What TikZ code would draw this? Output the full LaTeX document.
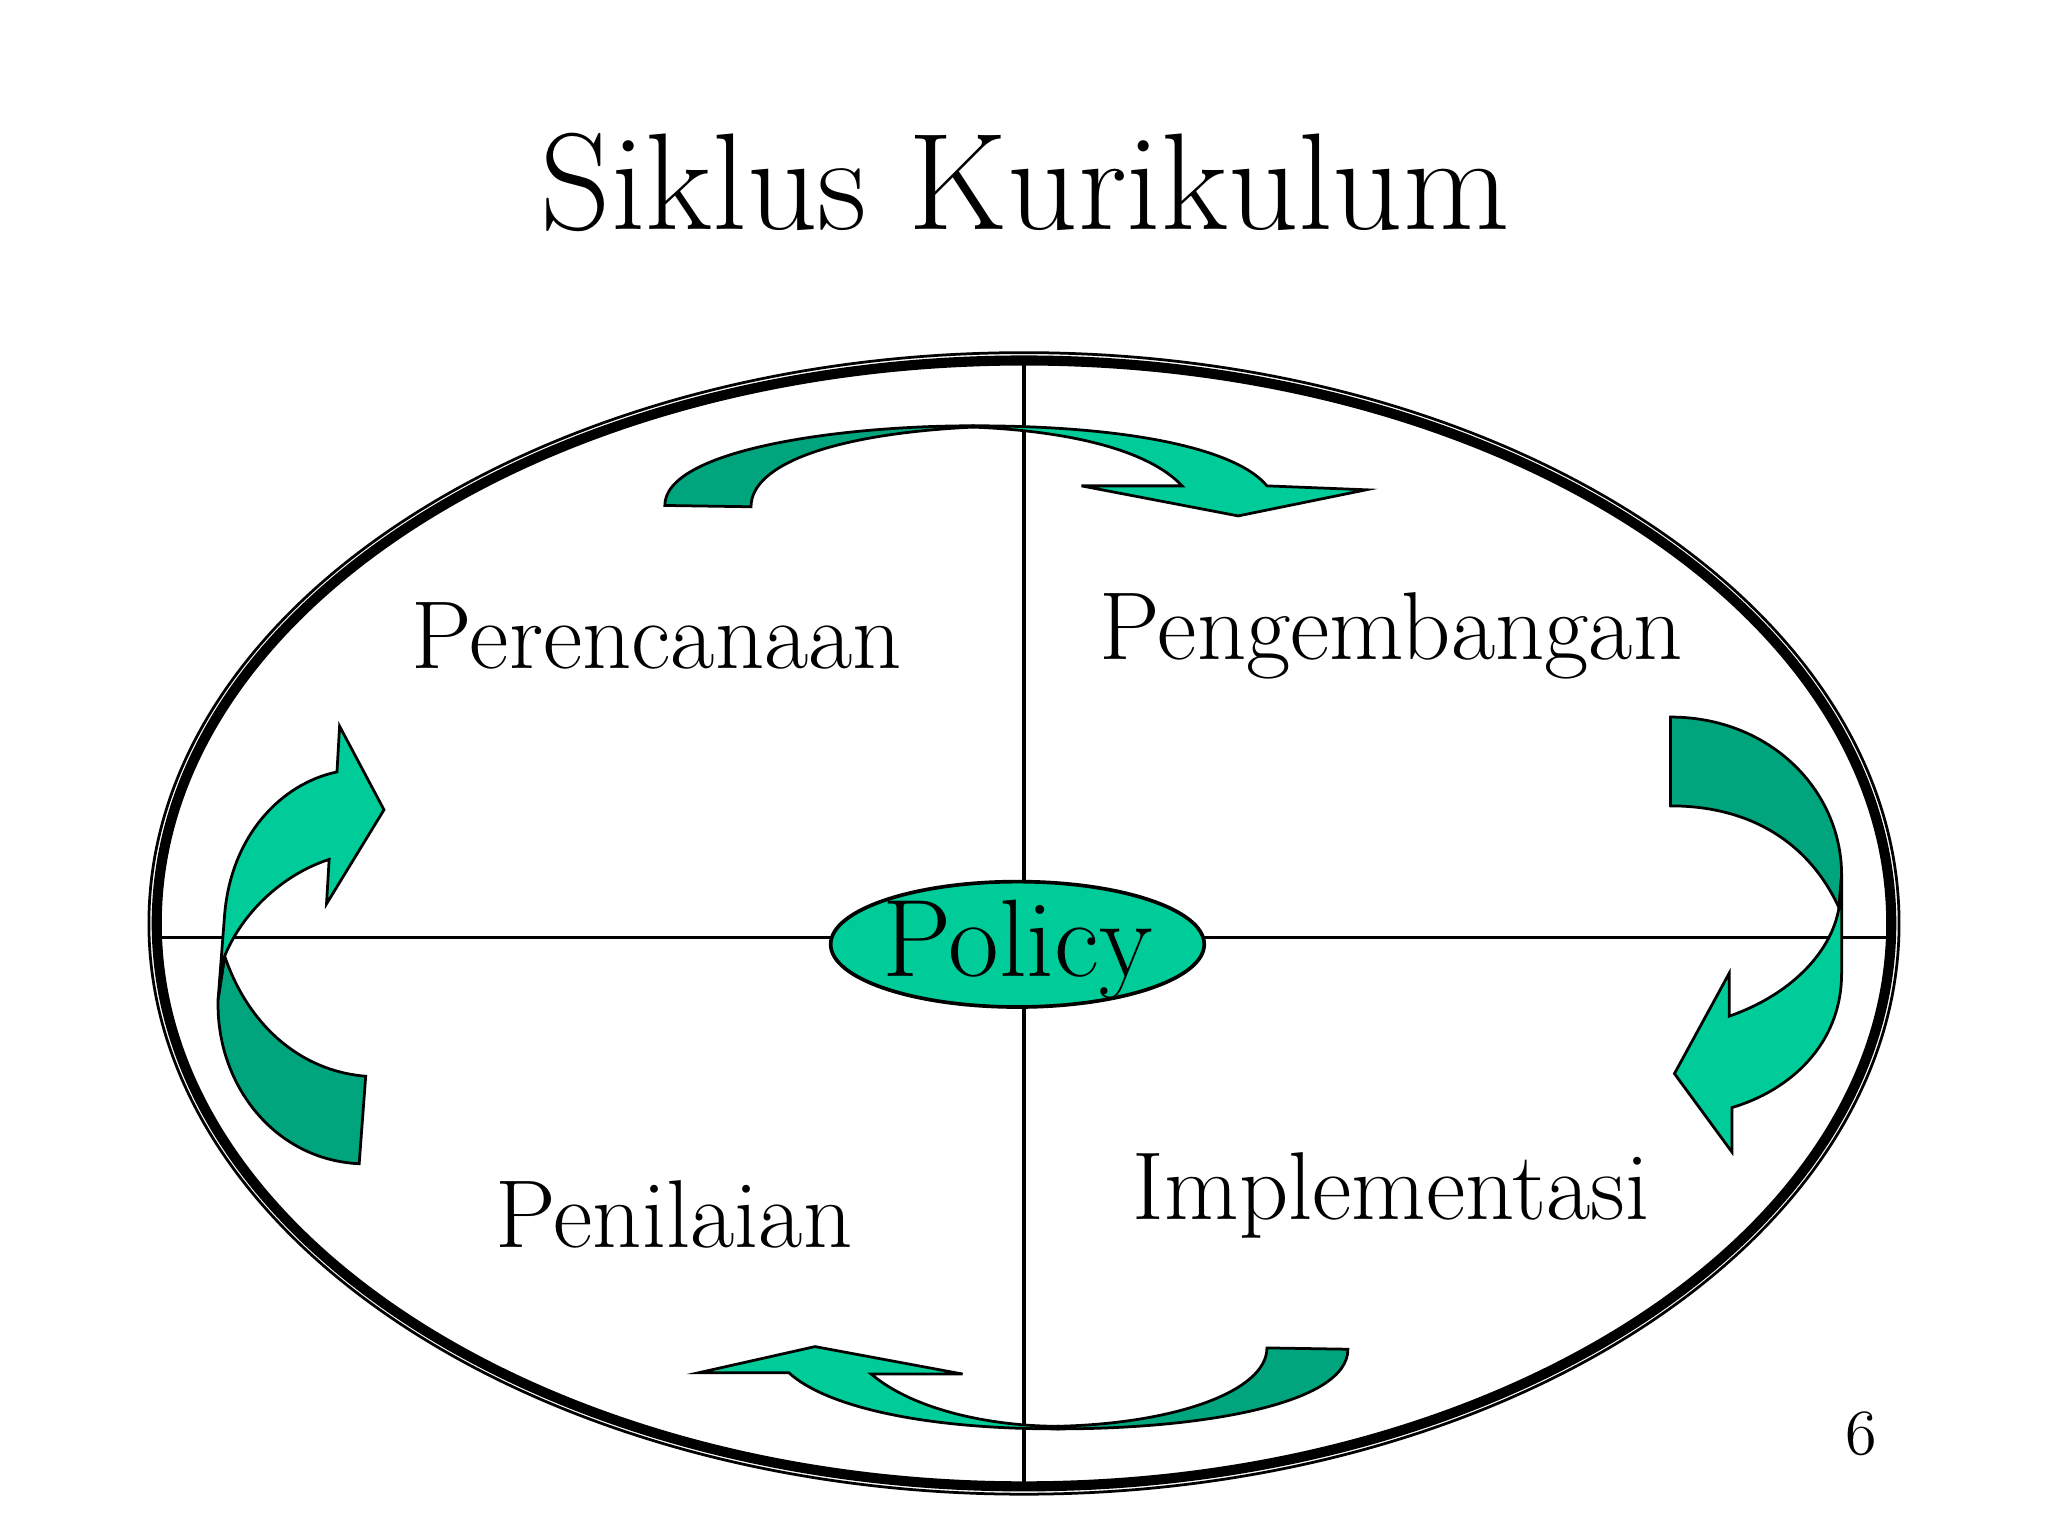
\documentclass[tikz,border=0pt]{standalone}
\definecolor{lgreen}{HTML}{00CC99}
\definecolor{dgreen}{HTML}{00A57D}
\begin{document}
\begin{tikzpicture}[x=0.01cm,y=-0.01cm,
  lbl/.style={font=\fontsize{21}{24}\selectfont},
  arr/.style={draw=black,line width=0.6pt,line join=miter}]
\useasboundingbox (0,0) rectangle (1568,1176);
\node (title) at (785,140) {\fontsize{30}{34}\selectfont Siklus Kurikulum};
% big ellipse
\draw[line width=0.6pt] (784,707) ellipse [x radius=670,y radius=437];
\draw[line width=2.2pt] (784,707) ellipse [x radius=664,y radius=431];
% axes
\coordinate (vt) at (784,279); \coordinate (vb) at (784,1136);
\coordinate (hl) at (120,718); \coordinate (hr) at (1447,718);
\draw[line width=0.7pt] (vt) -- (vb);
\draw[line width=0.7pt] (hl) -- (hr);
\draw[line width=0.8pt,fill=lgreen] (779,723) ellipse [x radius=143,y radius=48];
\node[font=\fontsize{24}{28}\selectfont] (policy) at (779,727) {Policy};
\node[lbl] (p1) at (503,487) {Perencanaan};
\node[lbl] (p2) at (1065,487) {Pengembangan};
\node[lbl] (p3) at (516,930) {Penilaian};
\node[lbl] (p4) at (1065,915) {Implementasi};
\node[font=\fontsize{14}{16}\selectfont] (num) at (1425,1098) {6};
% top arrow
\draw[arr,fill=dgreen] (509,387) .. controls (509,345) and (640,326) .. (745,326) -- (745,327) .. controls (640,332) and (575,355) .. (575,388) -- cycle;
\draw[arr,fill=lgreen] (745,326) .. controls (870,326) and (948,345) .. (970,372) -- (1046,375) -- (948,395) -- (828,372) -- (905,372) .. controls (880,345) and (820,330) .. (745,327) -- cycle;
% bottom arrow
\draw[arr,fill=dgreen] (1032,1033) .. controls (1032,1075) and (920,1094) .. (810,1094) -- (810,1092) .. controls (900,1090) and (970,1065) .. (970,1032) -- cycle;
\draw[arr,fill=lgreen] (810,1094) .. controls (700,1094) and (630,1075) .. (604,1051) -- (535,1051) -- (624,1031) -- (737,1052) -- (667,1052) .. controls (700,1080) and (760,1092) .. (810,1092) -- cycle;
% right arrow
\draw[arr,fill=dgreen] (1279,549) .. controls (1355,549) and (1410,605) .. (1410,670) -- (1408,695) .. controls (1385,645) and (1340,617) .. (1279,617) -- cycle;
\draw[arr,fill=lgreen] (1410,670) -- (1410,745) .. controls (1410,800) and (1370,835) .. (1326,848) -- (1326,882) -- (1282,822) -- (1324,745) -- (1324,778) .. controls (1370,762) and (1402,730) .. (1408,695) -- cycle;
% left arrow
\draw[arr,fill=dgreen] (275,891) .. controls (210,888) and (165,830) .. (167,765) -- (172,732) .. controls (190,785) and (230,820) .. (280,824) -- cycle;
\draw[arr,fill=lgreen] (167,765) -- (172,700) .. controls (177,640) and (215,600) .. (258,591) -- (260,556) -- (294,620) -- (250,692) -- (252,658) .. controls (215,670) and (185,700) .. (172,732) -- cycle;
\end{tikzpicture}
\end{document}
